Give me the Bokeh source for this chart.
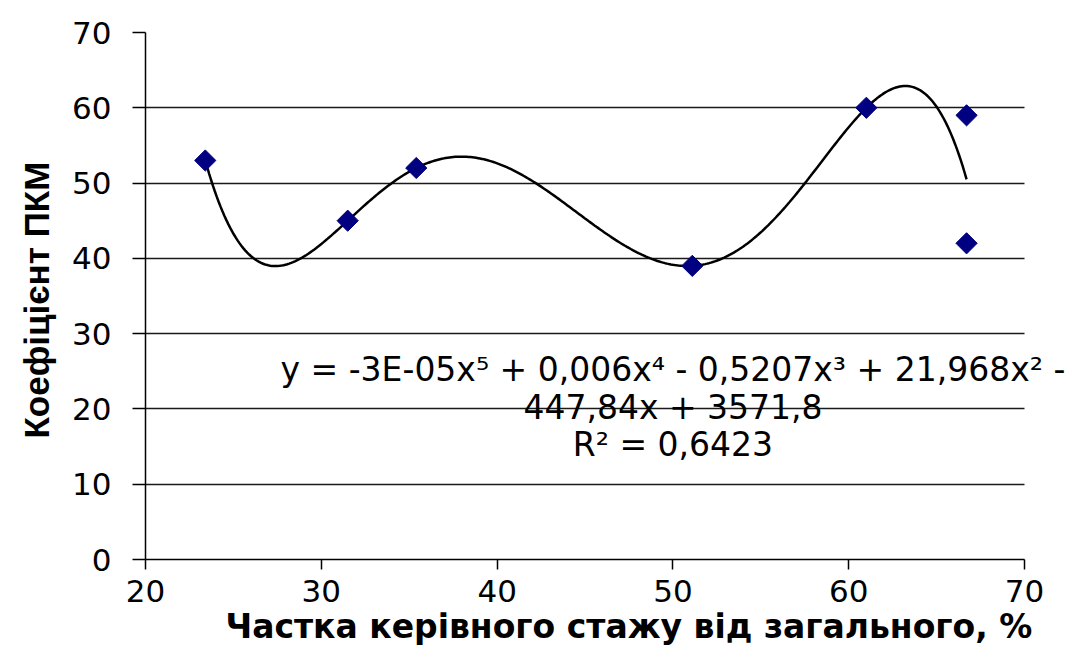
import numpy as np
from bokeh.plotting import figure
from bokeh.models import Label, FixedTicker, Range1d, Title
from bokeh.embed import file_html
from bokeh.resources import INLINE

# ---- data ----
share_x = [23.4, 31.5, 35.4, 51.1, 61.0, 66.7, 66.7]
coef_y = [53, 45, 52, 39, 60, 59, 42]
x_ticks = [20, 30, 40, 50, 60, 70]
y_ticks = [0, 10, 20, 30, 40, 50, 60, 70]
eq_lines = ["y = -3E-05x\u2075 + 0,006x\u2074 - 0,5207x\u00b3 + 21,968x\u00b2 -",
            "447,84x + 3571,8",
            "R\u00b2 = 0,6423"]
x_title = "Частка керівного стажу від загального, %"
y_title = "Коефіцієнт ПКМ"

# 5th-degree polynomial trendline fitted to the points (as Excel does)
coeffs = np.polyfit(share_x, coef_y, 5)
trend_x = np.linspace(min(share_x), max(share_x), 400)
trend_y = np.polyval(coeffs, trend_x)

FONT = "DejaVu Sans"
W, H = 1066, 645
LEFT, TOP, BOTTOM = 143, 32, 84
PX_PER_UNIT = (1024 - LEFT) / 50.0
x_end = 70 + (W - 1024) / PX_PER_UNIT

p = figure(width=W, height=H, output_backend="svg", toolbar_location=None,
           x_range=Range1d(20, x_end), y_range=Range1d(0, 70),
           min_border_left=LEFT, min_border_right=0,
           min_border_top=TOP, min_border_bottom=BOTTOM)
p.outline_line_color = None
p.background_fill_color = "white"
p.border_fill_color = "white"

p.xgrid.visible = False
p.ygrid.grid_line_color = "#1a1a1a"
p.ygrid.grid_line_width = 1.4
p.ygrid.cross_bounds = (20, 70)

for ax in (p.xaxis[0], p.yaxis[0]):
    ax.axis_line_color = "black"
    ax.axis_line_width = 1.5
    ax.major_tick_line_color = "black"
    ax.major_tick_line_width = 1.5
    ax.major_tick_in = 0
    ax.minor_tick_line_color = None
    ax.major_label_text_font = FONT
    ax.major_label_text_font_size = "31px"
    ax.major_label_text_color = "black"

p.xaxis.bounds = (20, 70)
p.xaxis.ticker = FixedTicker(ticks=x_ticks)
p.yaxis.ticker = FixedTicker(ticks=y_ticks)
p.xaxis.major_tick_out = 10
p.yaxis.major_tick_out = 13
p.xaxis.major_label_standoff = 10
p.yaxis.major_label_standoff = 21

p.line(trend_x, trend_y, line_color="black", line_width=2.5)
p.scatter(share_x, coef_y, marker="square", angle=np.pi / 4, size=15,
          fill_color="#000080", line_color="#000080", line_width=1)

eq_y = [25.2, 20.15, 15.3]
for t, yy in zip(eq_lines, eq_y):
    p.add_layout(Label(x=50.0, y=yy, text=t, text_align="center",
                       text_baseline="alphabetic", text_font=FONT,
                       text_font_size="33px", text_color="black"))

p.add_layout(Title(text=x_title, align="left", offset=80, standoff=0,
                   text_font=FONT, text_font_size="33px",
                   text_font_style="bold", text_color="black"), "below")
p.add_layout(Title(text=y_title, align="left", offset=121, standoff=28,
                   text_font="Liberation Sans", text_font_size="35px",
                   text_font_style="bold", text_color="black"), "left")

open("out.html", "w").write(file_html(p, INLINE))
